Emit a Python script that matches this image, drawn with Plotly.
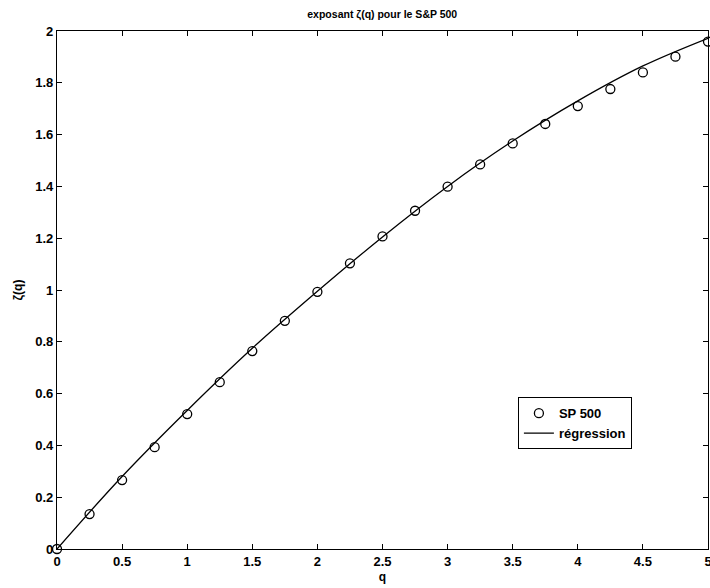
import plotly.graph_objects as go

# data
q_points = [0, 0.25, 0.5, 0.75, 1, 1.25, 1.5, 1.75, 2, 2.25, 2.5, 2.75, 3,
            3.25, 3.5, 3.75, 4, 4.25, 4.5, 4.75, 5]
zeta_points = [0, 0.135, 0.266, 0.393, 0.521, 0.644, 0.764, 0.881, 0.993, 1.103,
               1.207, 1.306, 1.399, 1.485, 1.566, 1.641, 1.710, 1.776, 1.840,
               1.901, 1.959]

q_reg = [0, 0.5, 1, 1.5, 2, 2.5, 3, 3.5, 4, 4.5, 5]
zeta_reg = [0, 0.28, 0.535, 0.775, 0.995, 1.205, 1.40, 1.575, 1.73, 1.865, 1.972]

x_ticks = [0, 0.5, 1, 1.5, 2, 2.5, 3, 3.5, 4, 4.5, 5]
x_ticktext = ["0", "0.5", "1", "1.5", "2", "2.5", "3", "3.5", "4", "4.5", "5"]
y_ticks = [0, 0.2, 0.4, 0.6, 0.8, 1, 1.2, 1.4, 1.6, 1.8, 2]
y_ticktext = ["0", "0.2", "0.4", "0.6", "0.8", "1", "1.2", "1.4", "1.6", "1.8", "2"]

FONT = "Liberation Sans, Arial, Helvetica, sans-serif"

fig = go.Figure()
fig.add_trace(go.Scatter(
    x=q_points, y=zeta_points, mode="markers", name="SP 500",
    marker=dict(symbol="circle-open", size=9, color="black", line=dict(width=1.3, color="black")),
    cliponaxis=False,
))
fig.add_trace(go.Scatter(
    x=q_reg, y=zeta_reg, mode="lines", name="régression",
    line=dict(color="black", width=1.3, shape="spline"),
))

axis_common = dict(
    showgrid=False, zeroline=False, showline=True, linecolor="black", linewidth=1.2,
    mirror="ticks", ticks="inside", ticklen=5, tickwidth=1.2, tickcolor="black",
    tickfont=dict(family=FONT, size=13, color="black", weight="bold"),
    automargin=False,
)

fig.update_layout(
    width=710, height=588,
    margin=dict(l=57, r=2, t=31, b=39, autoexpand=False),
    paper_bgcolor="white", plot_bgcolor="white",
    font=dict(family=FONT, size=12, color="black"),
    title=dict(text="exposant ζ(q) pour le S&P 500", x=0.5384, xanchor="center",
               y=0.976, yanchor="middle",
               font=dict(family=FONT, size=10.5, color="black", weight="bold")),
    showlegend=True,
    legend=dict(x=0.708, y=0.293, xanchor="left", yanchor="top",
                bordercolor="black", borderwidth=1, bgcolor="white",
                font=dict(family=FONT, size=13, color="black", weight="bold"),
                tracegroupgap=0, itemwidth=30),
)
fig.update_xaxes(range=[0, 5], tickvals=x_ticks, ticktext=x_ticktext,
                 ticklabeloverflow="allow",
                 title=dict(text="q", font=dict(family=FONT, size=12, weight="bold"), standoff=4),
                 **axis_common)
fig.update_yaxes(range=[0, 2], tickvals=y_ticks, ticktext=y_ticktext,
                 title=dict(text="ζ(q)", font=dict(family=FONT, size=12, weight="bold"), standoff=10),
                 **axis_common)

fig.write_html("out.html")
